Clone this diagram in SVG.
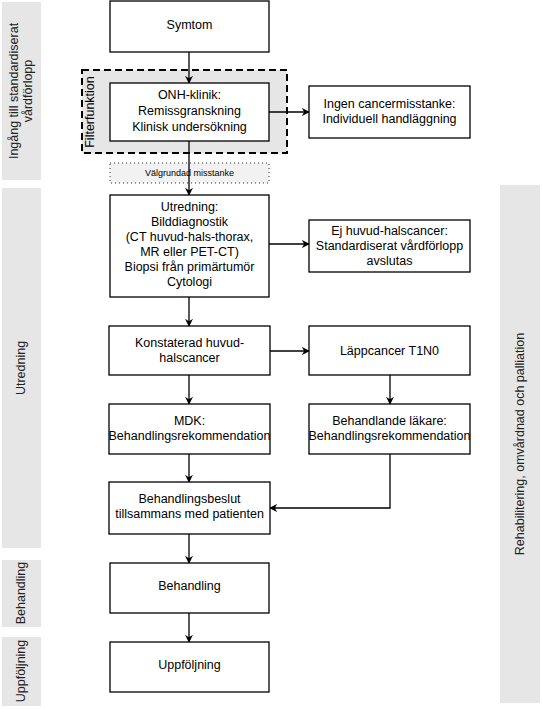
<svg xmlns="http://www.w3.org/2000/svg" width="542" height="709" viewBox="0 0 542 709">
<defs>
<style>
.lane{fill:#e6e6e6;stroke:none}
.box{fill:#fff;stroke:#000;stroke-width:1.3}
.t{font-family:"Liberation Sans",Arial,Helvetica,sans-serif;font-size:12.5px;fill:#000;text-anchor:middle;dominant-baseline:central}
.lt{font-family:"Liberation Sans",Arial,Helvetica,sans-serif;font-size:12.5px;fill:#222;text-anchor:middle;dominant-baseline:central}
.c{fill:none;stroke:#000;stroke-width:1.3}
</style>
<marker id="ah" viewBox="0 0 10 10" refX="9" refY="5" markerWidth="8" markerHeight="8" markerUnits="userSpaceOnUse" orient="auto">
<path d="M0,0 L10,5 L0,10 L3,5 Z" fill="#000"/>
</marker>
</defs>
<rect width="542" height="709" fill="#fff"/>

<g id="lanes">
<rect class="lane" x="2" y="2" width="39" height="178"/>
<text class="lt" transform="translate(21,91) rotate(-90)"><tspan x="0" y="-7">Ingång till standardiserat</tspan><tspan x="0" y="7">vårdförlopp</tspan></text>
<rect class="lane" x="2" y="188" width="39" height="360"/>
<text class="lt" transform="translate(21,368) rotate(-90)">Utredning</text>
<rect class="lane" x="2" y="560" width="39" height="67"/>
<text class="lt" transform="translate(21,593) rotate(-90)">Behandling</text>
<rect class="lane" x="2" y="637" width="39" height="69"/>
<text class="lt" transform="translate(21,671) rotate(-90)">Uppföljning</text>
<rect class="lane" x="500" y="185" width="40" height="518"/>
<text class="lt" transform="translate(520,444) rotate(-90)">Rehabilitering, omvårdnad och palliation</text>
</g>

<g id="filter">
<rect x="82" y="70" width="205" height="83" fill="#e6e6e6" stroke="#000" stroke-width="2" stroke-dasharray="7,4"/>
<text class="t" transform="translate(90,112) rotate(-90)">Filterfunktion</text>
</g>

<g id="valgrundad">
<rect x="110" y="163" width="159" height="20" fill="#f2f2f2" stroke="#000" stroke-width="0.8" stroke-dasharray="1,3"/>
<text class="t" x="189.5" y="173" style="font-size:9px">Välgrundad misstanke</text>
</g>

<g id="connectors">
<line class="c" x1="189" y1="52" x2="189" y2="83" marker-end="url(#ah)"/>
<line class="c" x1="189" y1="141" x2="189" y2="195" marker-end="url(#ah)"/>
<line class="c" x1="269" y1="112" x2="309" y2="112" marker-end="url(#ah)"/>
<line class="c" x1="269" y1="244" x2="309" y2="244" marker-end="url(#ah)"/>
<line class="c" x1="189" y1="297" x2="189" y2="326" marker-end="url(#ah)"/>
<line class="c" x1="270" y1="351" x2="309" y2="351" marker-end="url(#ah)"/>
<line class="c" x1="189" y1="375" x2="189" y2="404" marker-end="url(#ah)"/>
<line class="c" x1="390" y1="375" x2="390" y2="404" marker-end="url(#ah)"/>
<line class="c" x1="189" y1="454" x2="189" y2="482" marker-end="url(#ah)"/>
<polyline class="c" points="390,454 390,508 270,508" marker-end="url(#ah)"/>
<line class="c" x1="189" y1="534" x2="189" y2="563" marker-end="url(#ah)"/>
<line class="c" x1="189" y1="613" x2="189" y2="642" marker-end="url(#ah)"/>
</g>

<g id="symtom">
<rect class="box" x="110" y="1" width="159" height="51"/>
<text class="t" x="189.5" y="25">Symtom</text>
</g>

<g id="onh">
<rect class="box" x="110" y="83" width="159" height="58"/>
<text class="t" x="189.5" y="95">ONH-klinik:</text>
<text class="t" x="189.5" y="111">Remissgranskning</text>
<text class="t" x="189.5" y="127">Klinisk undersökning</text>
</g>

<g id="ingen">
<rect class="box" x="309" y="86" width="161" height="52"/>
<text class="t" x="389.5" y="104">Ingen cancermisstanke:</text>
<text class="t" x="389.5" y="119">Individuell handläggning</text>
</g>

<g id="utredning">
<rect class="box" x="110" y="195" width="159" height="102"/>
<text class="t" x="189.5" y="207">Utredning:</text>
<text class="t" x="189.5" y="222">Bilddiagnostik</text>
<text class="t" x="189.5" y="237">(CT huvud-hals-thorax,</text>
<text class="t" x="189.5" y="252">MR eller PET-CT)</text>
<text class="t" x="189.5" y="267">Biopsi från primärtumör</text>
<text class="t" x="189.5" y="282">Cytologi</text>
</g>

<g id="ej">
<rect class="box" x="309" y="220" width="161" height="52"/>
<text class="t" x="389.5" y="231">Ej huvud-halscancer:</text>
<text class="t" x="389.5" y="246">Standardiserat vårdförlopp</text>
<text class="t" x="389.5" y="261">avslutas</text>
</g>

<g id="konstaterad">
<rect class="box" x="109" y="326" width="161" height="49"/>
<text class="t" x="189.5" y="343">Konstaterad huvud-</text>
<text class="t" x="189.5" y="358">halscancer</text>
</g>

<g id="lapp">
<rect class="box" x="309" y="326" width="161" height="49"/>
<text class="t" x="389.5" y="351">Läppcancer T1N0</text>
</g>

<g id="mdk">
<rect class="box" x="109" y="404" width="161" height="50"/>
<text class="t" x="189.5" y="421">MDK:</text>
<text class="t" x="189.5" y="436">Behandlingsrekommendation</text>
</g>

<g id="lakare">
<rect class="box" x="309" y="404" width="161" height="50"/>
<text class="t" x="389.5" y="421">Behandlande läkare:</text>
<text class="t" x="389.5" y="436">Behandlingsrekommendation</text>
</g>

<g id="beslut">
<rect class="box" x="109" y="482" width="161" height="52"/>
<text class="t" x="189.5" y="499">Behandlingsbeslut</text>
<text class="t" x="189.5" y="514">tillsammans med patienten</text>
</g>

<g id="behandling">
<rect class="box" x="110" y="563" width="159" height="50"/>
<text class="t" x="189.5" y="586">Behandling</text>
</g>

<g id="uppfoljning">
<rect class="box" x="110" y="642" width="159" height="50"/>
<text class="t" x="189.5" y="665">Uppföljning</text>
</g>
</svg>
